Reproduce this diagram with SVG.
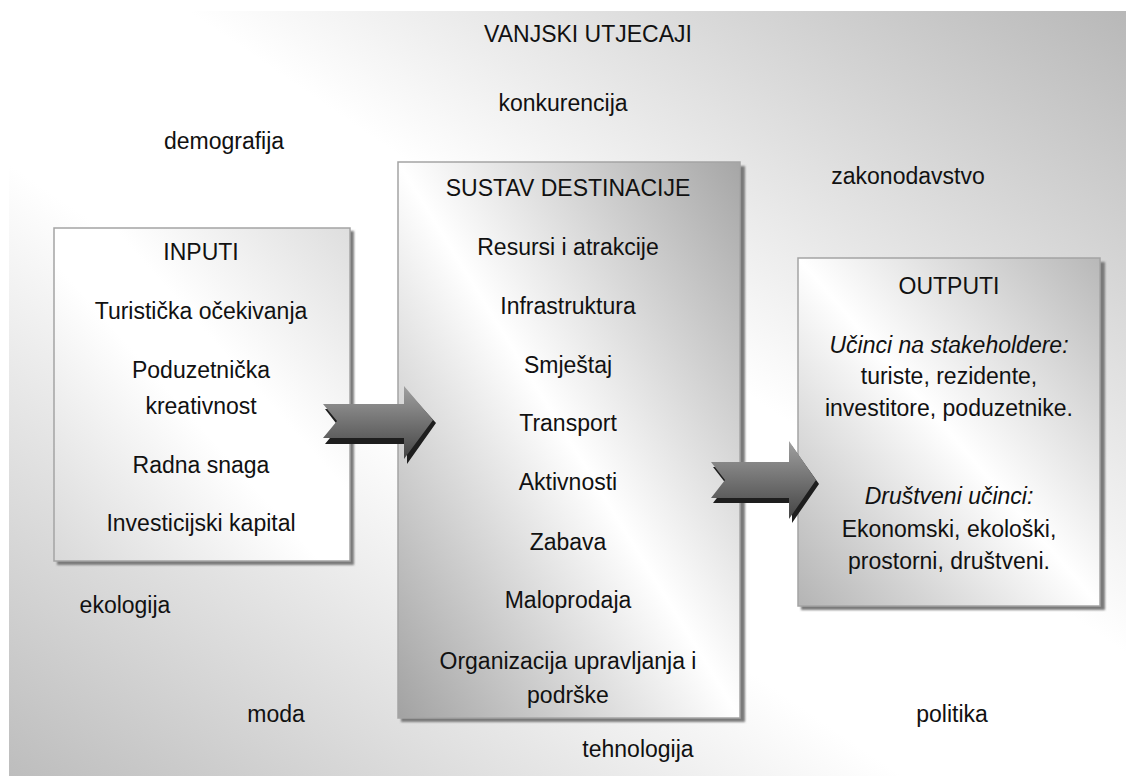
<svg xmlns="http://www.w3.org/2000/svg" width="1126" height="776" viewBox="0 0 1126 776">
<style>
text{font-family:"Liberation Sans",Arial,sans-serif;font-size:23px;fill:#111111;text-anchor:middle}
.it{font-style:italic}
.box{stroke:#a4a4a4;stroke-width:1.5}
.shadow{fill:#7a7a7a;filter:url(#blur)}
.face{fill:url(#arrowGrad)}
.ext{fill:#1e1e1e}
</style>
<defs>
<linearGradient id="bgGrad" x1="0" y1="1" x2="1" y2="0">
<stop offset="0" stop-color="#bdbdbd"/>
<stop offset="0.4" stop-color="#ffffff"/>
<stop offset="0.58" stop-color="#ffffff"/>
<stop offset="1" stop-color="#b8b8b8"/>
</linearGradient>
<linearGradient id="inGrad" x1="0" y1="1" x2="1" y2="0">
<stop offset="0" stop-color="#d9d9d9"/>
<stop offset="0.45" stop-color="#ffffff"/>
<stop offset="0.6" stop-color="#ffffff"/>
<stop offset="1" stop-color="#dedede"/>
</linearGradient>
<linearGradient id="susGrad" x1="0" y1="1" x2="1" y2="0">
<stop offset="0" stop-color="#a2a2a2"/>
<stop offset="0.5" stop-color="#ffffff"/>
<stop offset="1" stop-color="#a6a6a6"/>
</linearGradient>
<linearGradient id="outGrad" x1="0" y1="1" x2="1" y2="0">
<stop offset="0" stop-color="#b4b4b4"/>
<stop offset="0.5" stop-color="#ffffff"/>
<stop offset="1" stop-color="#b8b8b8"/>
</linearGradient>
<linearGradient id="arrowGrad" x1="0" y1="0" x2="0" y2="1">
<stop offset="0" stop-color="#a0a0a0"/>
<stop offset="0.5" stop-color="#727272"/>
<stop offset="1" stop-color="#444444"/>
</linearGradient>
<filter id="blur" x="-10%" y="-10%" width="120%" height="120%">
<feGaussianBlur stdDeviation="1"/>
</filter>
</defs>

<rect id="background" x="9" y="11" width="1117" height="765" fill="url(#bgGrad)"/>

<g id="external-factors">
<text x="588" y="42">VANJSKI UTJECAJI</text>
<text x="563" y="111">konkurencija</text>
<text x="224" y="149">demografija</text>
<text x="908" y="184">zakonodavstvo</text>
<text x="125" y="613">ekologija</text>
<text x="276" y="722">moda</text>
<text x="952" y="722">politika</text>
<text x="638" y="757">tehnologija</text>
</g>

<g id="inputi">
<rect class="shadow" x="57" y="231" width="297" height="334"/>
<rect class="box" x="54" y="228" width="296" height="333" fill="url(#inGrad)"/>
<text x="201" y="260">INPUTI</text>
<text x="201" y="319">Turistička očekivanja</text>
<text x="201" y="378">Poduzetnička</text>
<text x="201" y="414">kreativnost</text>
<text x="201" y="473">Radna snaga</text>
<text x="201" y="531">Investicijski kapital</text>
</g>

<g id="sustav">
<rect class="shadow" x="401" y="166" width="344" height="556"/>
<rect class="box" x="398" y="162" width="342" height="556" fill="url(#susGrad)"/>
<text x="568" y="196">SUSTAV DESTINACIJE</text>
<text x="568" y="255">Resursi i atrakcije</text>
<text x="568" y="314">Infrastruktura</text>
<text x="568" y="373">Smještaj</text>
<text x="568" y="431">Transport</text>
<text x="568" y="490">Aktivnosti</text>
<text x="568" y="550">Zabava</text>
<text x="568" y="608">Maloprodaja</text>
<text x="568" y="669">Organizacija upravljanja i</text>
<text x="568" y="703">podrške</text>
</g>

<g id="outputi">
<rect class="shadow" x="801" y="262" width="304" height="348"/>
<rect class="box" x="798" y="258" width="302" height="348" fill="url(#outGrad)"/>
<text x="949" y="294">OUTPUTI</text>
<text class="it" x="949" y="353">Učinci na stakeholdere:</text>
<text x="949" y="384">turiste, rezidente,</text>
<text x="949" y="416">investitore, poduzetnike.</text>
<text class="it" x="949" y="504">Društveni učinci:</text>
<text x="949" y="537">Ekonomski, ekološki,</text>
<text x="949" y="569">prostorni, društveni.</text>
</g>

<g id="connectors">
<g id="arrow-inputi-sustav">
<polygon class="ext" points="325,409 339,427 325,444 407,444 407,464 436,423 407,391 407,409"/>
<polygon class="face" points="323,404 337,421 323,438 404,438 404,459 433,420 404,386 404,404"/>
</g>
<g id="arrow-sustav-outputi">
<polygon class="ext" points="713,467 727,485 713,503 792,503 792,523 819,484 792,446 792,467"/>
<polygon class="face" points="711,462 725,480 711,498 789,498 789,519 816,480 789,441 789,462"/>
</g>
</g>
</svg>
